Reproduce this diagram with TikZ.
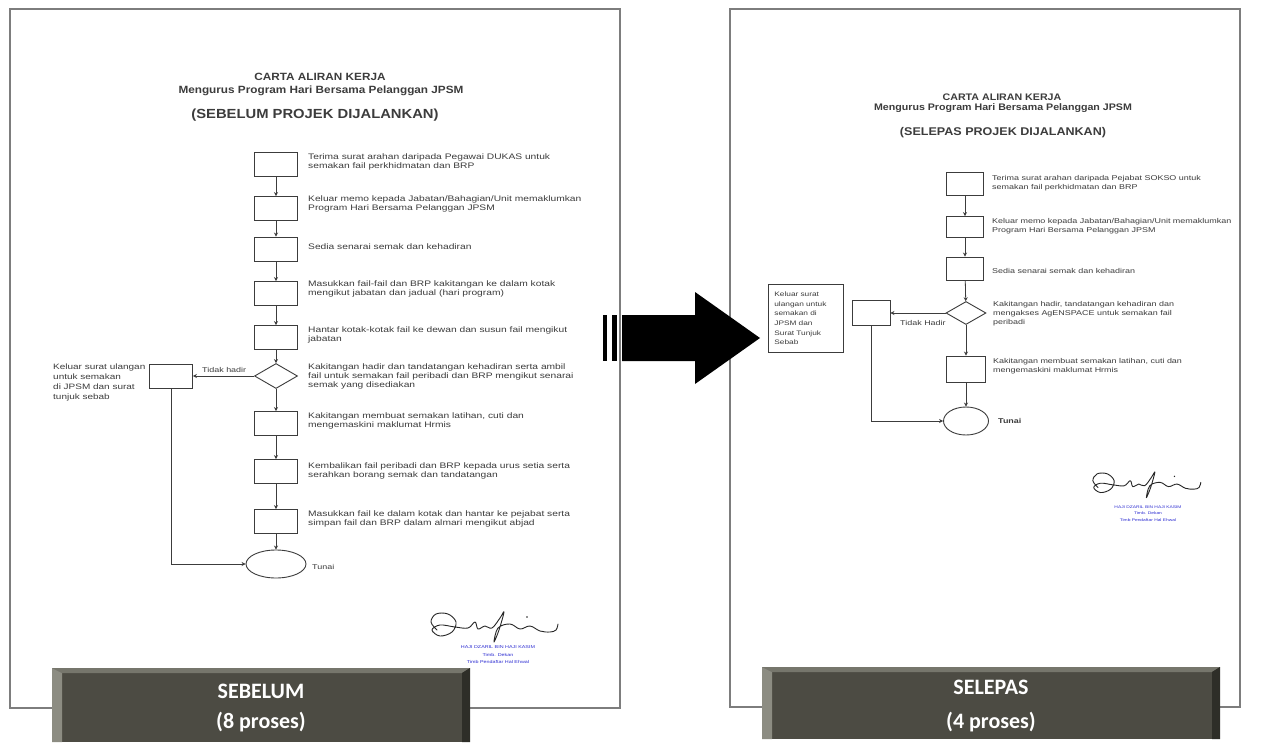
\documentclass[tikz,border=0pt]{standalone}
\usepackage{fontspec}
\newfontfamily\docf{Liberation Sans}[FakeStretch=1.28]
\newfontfamily\titf{Liberation Sans}[FakeStretch=1.12]
\newfontfamily\banf{Carlito}
\usetikzlibrary{shapes.geometric,arrows.meta}
\definecolor{pageline}{RGB}{125,125,125}
\definecolor{ink}{RGB}{60,60,60}
\definecolor{banfill}{RGB}{76,75,67}
\definecolor{banlight}{RGB}{140,140,130}
\definecolor{bantop}{RGB}{118,118,108}
\definecolor{bandark}{RGB}{46,46,40}
\definecolor{sigblue}{RGB}{45,45,210}
\begin{document}
\begin{tikzpicture}[x=1pt,y=-1pt,
  stepbox/.style={draw=ink, line width=0.9pt, minimum width=43pt, minimum height=24pt, inner sep=0pt},
  decide/.style={draw=ink, diamond, line width=0.9pt, minimum width=43pt, minimum height=25pt, inner sep=0pt},
  endoval/.style={draw=ink, ellipse, line width=0.9pt, minimum width=60pt, minimum height=28pt, inner sep=0pt},
  arr/.style={draw=ink, line width=0.8pt, -{Stealth[length=4pt,width=4pt]}},
  desc/.style={anchor=north west, inner sep=0pt, align=left, text=ink, font=\docf\fontsize{7}{9}\selectfont},
  ldesc/.style={desc, font=\docf\fontsize{8}{9}\selectfont},
  lbl/.style={anchor=west, inner sep=0pt, text=ink, font=\docf\fontsize{7}{9}\selectfont},
  bluetxt/.style={inner sep=0pt, text=sigblue, font=\docf\fontsize{4.2}{5}\selectfont},
  bantext/.style={text=white, align=center, inner sep=0pt},
  page/.style={draw=pageline, line width=1.2pt},
  pics/sigmark/.style={code={
    \draw[black!85, line width=0.9pt, line cap=round, line join=round]
      plot[smooth, tension=0.6] coordinates {(7,17) (1,9) (6,1) (18,1) (26,9) (22,19) (10,23) (2,17) (10,12) (25,14) (38,15) (45,9) (48,16) (55,13) (62,15) (70,5) (74,-1) (69,17) (64,29) (68,15) (80,11) (90,16) (100,13) (110,18) (120,19) (126,17) (128,11)};
    \fill[black!85] (97,4) circle (0.9pt);
  }}
]
\useasboundingbox (0,0) rectangle (1267,742);
\fill[white] (0,0) rectangle (1267,742);

% pages
\draw[page] (10,9) rectangle (620,708);
\draw[page] (730,9) rectangle (1240,707);

% ---------------- left page ----------------
\node[font=\titf\bfseries\fontsize{10.5}{12}\selectfont, text=ink] (LT1) at (320,77) {CARTA ALIRAN KERJA};
\node[font=\titf\bfseries\fontsize{10.5}{12}\selectfont, text=ink] (LT2) at (321,91) {Mengurus Program Hari Bersama Pelanggan JPSM};
\node[font=\titf\bfseries\fontsize{13.2}{15}\selectfont, text=ink] (LT3) at (315,115) {(SEBELUM PROJEK DIJALANKAN)};

\node[stepbox] (L1) at (276,164.5) {};
\node[stepbox] (L2) at (276,208.5) {};
\node[stepbox] (L3) at (276,249) {};
\node[stepbox] (L4) at (276,293.5) {};
\node[stepbox] (L5) at (276,337.5) {};
\node[decide]  (LD) at (276,376) {};
\node[stepbox] (L6) at (276,423.5) {};
\node[stepbox] (L7) at (276,471.5) {};
\node[stepbox] (L8) at (276,521.5) {};
\node[endoval] (LE) at (276,564) {};
\node[stepbox] (LS) at (171,376) {};

\draw[arr] (L1) -- (L2);
\draw[arr] (L2) -- (L3);
\draw[arr] (L3) -- (L4);
\draw[arr] (L4) -- (L5);
\draw[arr] (L5) -- (LD);
\draw[arr] (LD) -- (L6);
\draw[arr] (L6) -- (L7);
\draw[arr] (L7) -- (L8);
\draw[arr] (L8) -- (LE);
\draw[arr] (LD.west) -- (LS.east);
\draw[arr] (LS.south) |- (LE.west);

\node[ldesc] (LX1) at (308,153.5) {Terima surat arahan daripada Pegawai DUKAS untuk\\semakan fail perkhidmatan dan BRP};
\node[ldesc] (LX2) at (308,195.5) {Keluar memo kepada Jabatan/Bahagian/Unit memaklumkan\\Program Hari Bersama Pelanggan JPSM};
\node[ldesc] (LX3) at (308,243.5) {Sedia senarai semak dan kehadiran};
\node[ldesc] (LX4) at (308,280.5) {Masukkan fail-fail dan BRP kakitangan ke dalam kotak\\mengikut jabatan dan jadual (hari program)};
\node[ldesc] (LX5) at (308,326.5) {Hantar kotak-kotak fail ke dewan dan susun fail mengikut\\jabatan};
\node[ldesc] (LX6) at (308,363.5) {Kakitangan hadir dan tandatangan kehadiran serta ambil\\fail untuk semakan fail peribadi dan BRP mengikut senarai\\semak yang disediakan};
\node[ldesc] (LX7) at (308,412.5) {Kakitangan membuat semakan latihan, cuti dan\\mengemaskini maklumat Hrmis};
\node[ldesc] (LX8) at (308,462.5) {Kembalikan fail peribadi dan BRP kepada urus setia serta\\serahkan borang semak dan tandatangan};
\node[ldesc] (LX9) at (308,510.5) {Masukkan fail ke dalam kotak dan hantar ke pejabat serta\\simpan fail dan BRP dalam almari mengikut abjad};
\node[desc, font=\docf\fontsize{7.8}{10}\selectfont] (LXS) at (53,363.5) {Keluar surat ulangan\\untuk semakan\\di JPSM dan surat\\tunjuk sebab};
\node[lbl] (LNo) at (202,370) {Tidak hadir};
\node[lbl] (LTn) at (312,567) {Tunai};

% signature left
\pic at (430,613) {sigmark};
\node[bluetxt] (LB1) at (498,647) {HAJI DZARIL BIN HAJI KASIM};
\node[bluetxt] (LB2) at (498,654.5) {Timb. Dekan};
\node[bluetxt] (LB3) at (498,662) {Timb Pendaftar Hal Ehwal};

% ---------------- right page ----------------
\node[font=\titf\bfseries\fontsize{9.5}{11}\selectfont, text=ink] (RT1) at (1002,97) {CARTA ALIRAN KERJA};
\node[font=\titf\bfseries\fontsize{9.5}{11}\selectfont, text=ink] (RT2) at (1003,108) {Mengurus Program Hari Bersama Pelanggan JPSM};
\node[font=\titf\bfseries\fontsize{11.2}{13}\selectfont, text=ink] (RT3) at (1003,133) {(SELEPAS PROJEK DIJALANKAN)};

\node[stepbox, minimum width=37pt, minimum height=23pt] (R1) at (965,183.5) {};
\node[stepbox, minimum width=37pt, minimum height=21pt] (R2) at (965,227) {};
\node[stepbox, minimum width=37pt, minimum height=23pt] (R3) at (965,268.5) {};
\node[decide, minimum width=40pt, minimum height=23pt] (RD) at (966,313) {};
\node[stepbox, minimum width=39pt, minimum height=26pt] (R4) at (966,369) {};
\node[endoval, minimum width=45pt, minimum height=28pt] (RE) at (966,421) {};
\node[stepbox, minimum width=38pt, minimum height=25pt] (RS) at (871,313) {};
\node[draw=ink, line width=0.7pt, anchor=north west, text width=63pt, minimum height=68pt,
      inner xsep=6pt, inner ysep=4pt, align=left, text=ink, font=\docf\fontsize{6.5}{9.7}\selectfont] (RTX) at (768,284)
      {Keluar surat\\ulangan untuk\\semakan di\\JPSM dan\\Surat Tunjuk\\Sebab};

\draw[arr] (R1) -- (R2);
\draw[arr] (R2) -- (R3);
\draw[arr] (R3) -- (RD);
\draw[arr] (RD) -- (R4);
\draw[arr] (R4) -- (RE);
\draw[arr] (RD.west) -- (RS.east);
\draw[arr] (RS.south) |- (RE.west);

\node[desc] (RX1) at (992,175) {Terima surat arahan daripada Pejabat SOKSO untuk\\semakan fail perkhidmatan dan BRP};
\node[desc] (RX2) at (992,218) {Keluar memo kepada Jabatan/Bahagian/Unit memaklumkan\\Program Hari Bersama Pelanggan JPSM};
\node[desc] (RX3) at (992,268) {Sedia senarai semak dan kehadiran};
\node[desc] (RX4) at (993,301) {Kakitangan hadir, tandatangan kehadiran dan\\mengakses AgENSPACE untuk semakan fail\\peribadi};
\node[desc] (RX5) at (993,358) {Kakitangan membuat semakan latihan, cuti dan\\mengemaskini maklumat Hrmis};
\node[lbl] (RNo) at (900,323) {Tidak Hadir};
\node[lbl, font=\docf\bfseries\fontsize{7}{9}\selectfont] (RTn) at (998,421) {Tunai};

% signature right
\pic[scale=0.85] at (1092,473) {sigmark};
\node[bluetxt, font=\docf\fontsize{3.8}{5}\selectfont] (RB1) at (1148,507) {HAJI DZARIL BIN HAJI KASIM};
\node[bluetxt, font=\docf\fontsize{3.8}{5}\selectfont] (RB2) at (1148,513.5) {Timb. Dekan};
\node[bluetxt, font=\docf\fontsize{3.8}{5}\selectfont] (RB3) at (1148,520) {Timb Pendaftar Hal Ehwal};

% ---------------- big arrow ----------------
\fill[black] (603,315) rectangle (607,361);
\fill[black] (612,315) rectangle (617,361);
\fill[black] (622,315) -- (695,315) -- (695,292) -- (760,338) -- (695,384) -- (695,361) -- (622,361) -- cycle;

% ---------------- banners ----------------
\fill[banfill] (52,668) rectangle (470,742);
\fill[bantop] (52,668) -- (470,668) -- (462,673) -- (62,673) -- cycle;
\fill[banlight] (52,668) -- (62,673) -- (62,742) -- (52,742) -- cycle;
\fill[bandark] (470,668) -- (470,742) -- (462,742) -- (462,673) -- cycle;
\node[bantext, font=\banf\bfseries\fontsize{22}{30}\selectfont] (BL) at (261,708) {SEBELUM\\(8 proses)};

\fill[banfill] (762,667) rectangle (1220,739);
\fill[bantop] (762,667) -- (1220,667) -- (1212,672) -- (772,672) -- cycle;
\fill[banlight] (762,667) -- (772,672) -- (772,739) -- (762,739) -- cycle;
\fill[bandark] (1220,667) -- (1220,739) -- (1212,739) -- (1212,672) -- cycle;
\node[bantext, font=\banf\bfseries\fontsize{22}{34}\selectfont] (BR) at (991,706) {SELEPAS\\(4 proses)};
\end{tikzpicture}
\end{document}
